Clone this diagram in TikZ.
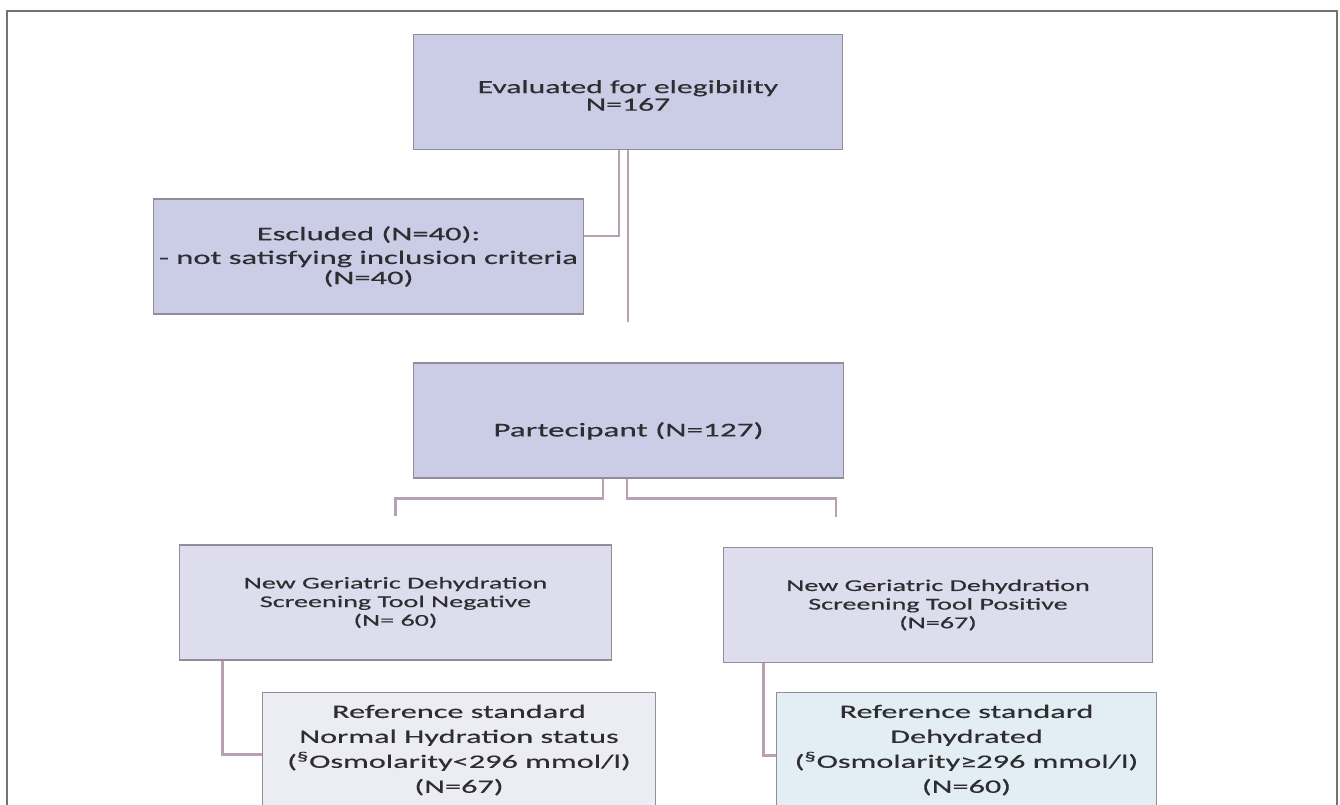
\documentclass[tikz,border=0pt]{standalone}
\usepackage{fontspec}
\setmainfont[FakeStretch=1.7,FakeBold=0.4]{Carlito}
\usepackage{tikz}
\definecolor{boxA}{RGB}{203,204,229}
\definecolor{boxB}{RGB}{221,221,237}
\definecolor{boxC}{RGB}{236,236,243}
\definecolor{boxD}{RGB}{226,238,243}
\definecolor{edgecol}{RGB}{145,141,155}
\definecolor{linkcol}{RGB}{185,160,178}
\definecolor{txtcol}{RGB}{45,45,50}
\tikzset{main box/.style={rectangle,draw=edgecol,line width=0.6pt,text=txtcol,align=center,
    minimum width=8.6cm,minimum height=2.3cm,inner sep=0pt},
  ref box/.style={main box,minimum height=2.6cm,anchor=north,text depth=0.35cm,
    font=\fontsize{10.8}{14.2}\selectfont},
  link/.style={draw=linkcol,line width=1.3pt},
}

\begin{document}
\begin{tikzpicture}[x=0.02cm,y=-0.02cm]
	\clip (0,0) rectangle (1340,805);
	\draw[black!55,line width=1pt] (7,820) -- (7,11) -- (1337,11) -- (1337,820);
	
	%% boxes
	\node[main box,fill=boxA,text height=0.75cm,font=\fontsize{10.6}{10}\selectfont] (eval) at (628,92)
		{Evaluated for elegibility\\N=167};
	\node[main box,fill=boxA,minimum width=8.62cm,font=\fontsize{10.9}{11.5}\selectfont] (excl) at (368.5,256.5)
		{Escluded (N=40):\\[2pt]- not satisfying inclusion criteria\\[0pt](N=40)};
	\node[main box,fill=boxA,minimum width=8.62cm,text height=0.7cm,font=\fontsize{11.1}{12}\selectfont] (part) at (628.5,420.5)
		{Partecipant (N=127)};
	\node[main box,fill=boxB,minimum width=8.66cm,font=\fontsize{9.4}{10.6}\selectfont] (neg) at (395.5,602.5)
		{New Geriatric Dehydration\\Screening Tool Negative\\(N= 60)};
	\node[main box,fill=boxB,minimum width=8.6cm,font=\fontsize{9.4}{10.6}\selectfont] (pos) at (938,605)
		{New Geriatric Dehydration\\Screening Tool Positive\\(N=67)};
	\node[ref box,fill=boxC,minimum width=7.88cm] (refneg) at (459,692)
		{Reference standard\\Normal Hydration status\\(\textsuperscript{§}Osmolarity<296 mmol/l)\\(N=67)};
	\node[ref box,fill=boxD,minimum width=7.62cm] (refpos) at (966.5,692)
		{Reference standard\\Dehydrated\\(\textsuperscript{§}Osmolarity≥296 mmol/l)\\(N=60)};
	
	%% connectors
	\coordinate (gap) at (628,322);
	\path[link]
	([xshift=-0.18cm]eval.south) |- ([yshift=0.41cm]excl.east)
	(eval.south) -- (gap)
	([xshift=-0.51cm]part.south) -- ++(0,20) -| ([yshift=0.56cm]neg.north)
	([xshift=-0.03cm]part.south) -- ++(0,20) -| ([xshift=-2.04cm,yshift=0.6cm]pos.north)
	([xshift=0.88cm]neg.south west) |- ([yshift=0.06cm]refneg.west)
	([xshift=0.82cm]pos.south west) |- ([yshift=0.04cm]refpos.west)
	;
\end{tikzpicture}
\end{document}
